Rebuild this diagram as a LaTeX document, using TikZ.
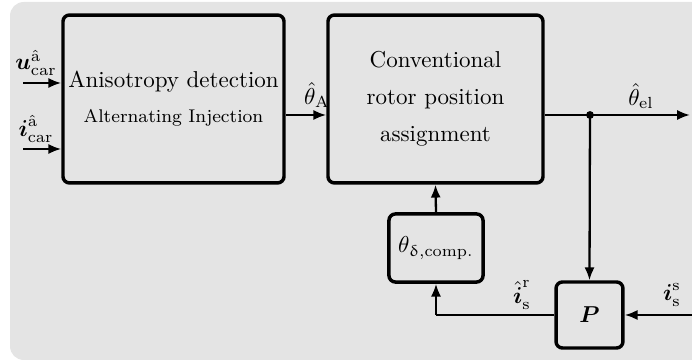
\documentclass[tikz,border=0pt]{standalone}
\usepackage{amsmath,amssymb}
\usepackage{upgreek}
\usetikzlibrary{arrows.meta}
\definecolor{panel}{HTML}{E4E4E4}
\tikzset{
  block/.style={draw, line width=1.5pt, rounded corners=2.8pt, inner sep=0pt, align=center},
  sig/.style={line width=1pt, -{Latex[length=5.6pt,width=4.4pt]}},
  wire/.style={line width=1pt},
  lbl/.style={inner sep=0.5pt}
}
\begin{document}
\begin{tikzpicture}[x=0.4348pt, y=-0.4348pt]
\useasboundingbox (0,0) rectangle (692,360);
% grey panel
\fill[panel, rounded corners=6pt] (10,2) rectangle (720,360);

% blocks
\node[block, minimum width=96.1pt, minimum height=73pt] (aniso) at (173.5,99) {};
\node (anisoA) at (173.5,82) {Anisotropy detection};
\node[font=\footnotesize] (anisoB) at (173.5,118) {Alternating Injection};

\node[block, minimum width=93.5pt, minimum height=73pt] (conv) at (435.5,99)
  {Conventional\\[4pt]rotor position\\[4pt]assignment};

\node[block, minimum width=40.9pt, minimum height=29.6pt] (comp) at (436,248)
  {$\theta_{\updelta,\mathrm{comp.}}$};

\node[block, minimum width=29.1pt, minimum height=28.7pt] (P) at (589.5,315)
  {$\boldsymbol{P}$};

% points
\coordinate (uin) at (23,83);
\coordinate (iin) at (23,149);
\coordinate (tap) at (590,115);
\coordinate (out) at (690,115);
\coordinate (isin) at (692,315);
\coordinate (bend) at (436,315);

% signals
\draw[sig] (uin) -- (uin -| aniso.west);
\draw[sig] (iin) -- (iin -| aniso.west);
\draw[sig] (aniso.east |- 0,115) -- (conv.west |- 0,115);
\draw[sig] (conv.east |- 0,115) -- (out);
\fill (tap) circle (1.7pt);
\draw[sig] (tap) -- (P.north);
\draw[sig] (isin) -- (P.east);
\draw[wire] (P.west) -- (bend);
\draw[sig] (bend) -- (comp.south);
\draw[sig] (comp.north) -- (conv.south);

% labels
\node[lbl] (lu) at (36,63) {$\boldsymbol{u}^{\hat{\mathrm{a}}}_{\mathrm{car}}$};
\node[lbl] (li) at (36,129) {$\boldsymbol{i}^{\hat{\mathrm{a}}}_{\mathrm{car}}$};
\node[lbl] (lA) at (317,95) {$\hat{\theta}_{\mathrm{A}}$};
\node[lbl] (lel) at (641,96) {$\hat{\theta}_{\mathrm{el}}$};
\node[lbl] (lir) at (522,295) {$\hat{\boldsymbol{i}}^{\mathrm{r}}_{\mathrm{s}}$};
\node[lbl] (lis) at (672,295) {$\boldsymbol{i}^{\mathrm{s}}_{\mathrm{s}}$};
\end{tikzpicture}
\end{document}
